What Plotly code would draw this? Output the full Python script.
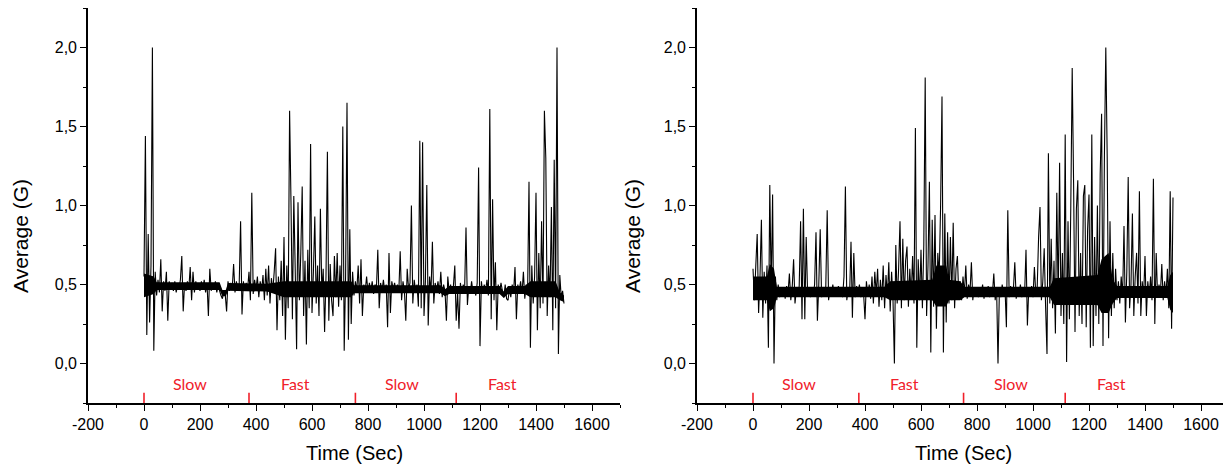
import plotly.graph_objects as go

# Sampling grid (seconds) shared by both recordings
t_start, t_step, n_samples = 0, 5, 301
time_s = [t_start + t_step * i for i in range(n_samples)]

# Left recording: average acceleration (G), one value per 5 s sample
left_avg = [
    0.55, 1.44, 0.18, 0.82, 0.26, 0.62, 2.00, 0.08, 0.58, 0.43, 0.53, 0.45, 0.66, 0.33, 0.52, 0.46, 0.58, 0.27, 0.52, 0.47,
    0.51, 0.46, 0.52, 0.45, 0.50, 0.47, 0.53, 0.68, 0.33, 0.51, 0.46, 0.52, 0.47, 0.61, 0.40, 0.58, 0.45, 0.52, 0.47, 0.50,
    0.46, 0.52, 0.47, 0.53, 0.45, 0.51, 0.30, 0.60, 0.46, 0.50, 0.47, 0.52, 0.45, 0.50, 0.46, 0.43, 0.41, 0.46, 0.44, 0.33,
    0.52, 0.46, 0.51, 0.47, 0.63, 0.45, 0.52, 0.47, 0.50, 0.90, 0.31, 0.52, 0.46, 0.51, 0.47, 0.58, 0.40, 1.08, 0.44, 0.53,
    0.47, 0.55, 0.42, 0.52, 0.46, 0.56, 0.40, 0.60, 0.43, 0.62, 0.38, 0.54, 0.46, 0.58, 0.73, 0.21, 0.55, 0.40, 0.65, 0.30,
    0.80, 0.15, 0.62, 0.35, 1.60, 1.02, 0.28, 1.06, 0.60, 0.09, 1.02, 0.40, 0.70, 1.12, 0.30, 0.65, 0.12, 0.72, 0.35, 1.39,
    0.32, 0.58, 0.93, 0.38, 0.62, 0.30, 0.98, 0.45, 0.60, 0.20, 0.55, 1.34, 0.27, 0.63, 0.40, 0.30, 0.68, 0.42, 0.70, 0.36,
    0.62, 0.40, 1.50, 0.08, 0.55, 1.65, 0.15, 0.85, 0.25, 0.58, 0.43, 0.52, 0.46, 0.62, 0.38, 0.66, 0.30, 0.50, 0.46, 0.55,
    0.45, 0.51, 0.46, 0.52, 0.44, 0.50, 0.47, 0.72, 0.35, 0.51, 0.46, 0.53, 0.45, 0.50, 0.23, 0.70, 0.32, 0.52, 0.47, 0.51,
    0.46, 0.50, 0.45, 0.71, 0.40, 0.52, 0.46, 0.27, 0.60, 0.47, 0.51, 1.00, 0.38, 0.53, 0.46, 0.50, 0.36, 1.41, 0.35, 1.40,
    0.30, 0.52, 1.13, 0.24, 0.55, 0.45, 0.77, 0.38, 0.51, 0.46, 0.52, 0.44, 0.58, 0.42, 0.50, 0.46, 0.27, 0.55, 0.45, 0.50,
    0.44, 0.49, 0.62, 0.27, 0.45, 0.22, 0.51, 0.44, 0.50, 0.46, 0.86, 0.37, 0.49, 0.44, 0.52, 0.45, 0.48, 0.43, 0.51, 1.24,
    0.11, 0.52, 0.44, 0.50, 0.46, 0.53, 0.43, 1.61, 0.28, 1.04, 0.40, 0.64, 0.21, 0.50, 0.45, 0.51, 0.46, 0.42, 0.50, 0.41,
    0.40, 0.47, 0.42, 0.50, 0.45, 0.61, 0.28, 0.50, 0.46, 0.52, 0.44, 0.58, 0.41, 0.50, 0.45, 1.15, 0.10, 0.62, 0.38, 0.55,
    1.08, 0.21, 0.70, 0.35, 0.90, 0.38, 1.60, 1.30, 0.30, 0.62, 0.42, 0.99, 0.21, 1.29, 0.35, 2.00, 0.06, 0.56, 0.42, 0.46,
    0.38,
]

# Right recording
right_avg = [
    0.60, 0.40, 0.62, 0.82, 0.32, 0.55, 0.91, 0.29, 0.58, 0.38, 0.62, 0.10, 1.13, 0.45, 1.07, 0.00, 0.55, 0.40, 0.50, 0.42,
    0.48, 0.43, 0.47, 0.41, 0.49, 0.44, 0.57, 0.40, 0.48, 0.66, 0.38, 0.47, 0.43, 0.49, 0.90, 0.28, 0.98, 0.28, 0.80, 0.44,
    0.47, 0.42, 0.48, 0.43, 0.50, 0.83, 0.27, 0.50, 0.85, 0.42, 0.48, 0.44, 0.49, 0.97, 0.40, 0.47, 0.43, 0.50, 0.44, 0.48,
    0.43, 0.49, 0.44, 0.48, 0.42, 0.55, 1.12, 0.40, 0.47, 0.43, 0.77, 0.29, 0.70, 0.42, 0.49, 0.44, 0.50, 0.42, 0.48, 0.44,
    0.28, 0.52, 0.43, 0.50, 0.41, 0.55, 0.38, 0.58, 0.44, 0.60, 0.36, 0.53, 0.40, 0.62, 0.35, 0.56, 0.42, 0.64, 0.33, 0.58,
    0.40, 0.00, 0.75, 0.38, 0.60, 0.90, 0.35, 0.79, 0.40, 0.65, 0.74, 0.36, 0.60, 0.42, 0.68, 0.38, 1.49, 0.10, 0.66, 0.40,
    0.72, 0.35, 0.75, 1.81, 0.30, 0.62, 1.15, 0.07, 0.91, 0.36, 0.94, 0.22, 0.70, 0.55, 1.00, 1.69, 0.07, 0.95, 0.26, 0.83,
    0.38, 0.80, 0.40, 0.89, 0.35, 0.60, 0.68, 0.42, 0.52, 0.40, 0.55, 0.44, 0.62, 0.41, 0.50, 0.45, 0.64, 0.40, 0.48, 0.43,
    0.47, 0.42, 0.48, 0.44, 0.50, 0.41, 0.47, 0.43, 0.49, 0.42, 0.46, 0.44, 0.57, 0.40, 0.48, 0.00, 0.47, 0.42, 0.50, 0.44,
    0.48, 0.23, 0.97, 0.42, 0.49, 0.43, 0.47, 0.64, 0.41, 0.48, 0.43, 0.50, 0.42, 0.47, 0.44, 0.72, 0.24, 0.48, 0.43, 0.49,
    0.42, 0.61, 0.44, 0.48, 0.80, 0.99, 0.40, 0.52, 0.73, 0.36, 0.06, 1.33, 0.38, 0.79, 0.35, 0.65, 0.19, 1.08, 0.38, 1.27,
    0.30, 0.70, 0.25, 1.45, 0.01, 0.90, 0.28, 1.00, 1.87, 1.14, 0.20, 0.98, 1.16, 0.30, 0.70, 0.25, 1.06, 1.13, 0.23, 0.85,
    1.07, 0.10, 1.45, 0.11, 0.80, 0.30, 1.00, 0.25, 1.20, 1.58, 0.11, 1.31, 2.00, 1.31, 0.16, 0.90, 0.30, 0.70, 0.35, 0.60,
    0.40, 0.52, 0.38, 0.55, 0.42, 0.87, 0.26, 0.58, 1.18, 0.35, 0.50, 0.95, 0.30, 0.55, 0.70, 0.38, 1.09, 0.30, 0.52, 0.42,
    0.68, 0.30, 0.52, 0.42, 0.55, 0.40, 1.17, 0.25, 0.70, 0.42, 0.50, 0.44, 0.63, 0.40, 0.52, 0.43, 0.60, 0.35, 1.09, 0.22,
    1.05,
]

# Dense noise core (solid black band): time, lower, upper edge
left_band_t = [0, 35, 45, 270, 280, 292, 300, 440, 500, 740, 750, 1060, 1075, 1090, 1270, 1285, 1300, 1360, 1380, 1470, 1485, 1500]
left_band_lo = [0.42, 0.44, 0.465, 0.465, 0.425, 0.425, 0.46, 0.455, 0.42, 0.42, 0.445, 0.445, 0.425, 0.44, 0.44, 0.415, 0.44, 0.44, 0.42, 0.42, 0.40, 0.39]
left_band_hi = [0.57, 0.55, 0.515, 0.515, 0.465, 0.465, 0.51, 0.505, 0.52, 0.52, 0.495, 0.495, 0.47, 0.49, 0.49, 0.455, 0.49, 0.49, 0.52, 0.52, 0.45, 0.43]

right_band_t = [0, 50, 60, 75, 85, 470, 490, 640, 655, 690, 700, 740, 755, 1060, 1075, 1230, 1245, 1270, 1285, 1300, 1480, 1490, 1500]
right_band_lo = [0.40, 0.40, 0.33, 0.35, 0.42, 0.42, 0.40, 0.40, 0.36, 0.36, 0.40, 0.40, 0.42, 0.42, 0.37, 0.37, 0.32, 0.32, 0.38, 0.415, 0.415, 0.34, 0.32]
right_band_hi = [0.55, 0.55, 0.63, 0.60, 0.485, 0.485, 0.52, 0.53, 0.62, 0.62, 0.53, 0.52, 0.485, 0.485, 0.54, 0.56, 0.66, 0.70, 0.53, 0.49, 0.49, 0.56, 0.58]

# Phase annotations (seconds)
phase_bounds_left = [0, 375, 755, 1115]
phase_bounds_right = [0, 378, 752, 1115]
phase_names = ["Slow", "Fast", "Slow", "Fast"]
phase_label_x = [165, 540, 922, 1280]

x_ticks = [-200, 0, 200, 400, 600, 800, 1000, 1200, 1400, 1600]
y_ticks = [0.0, 0.5, 1.0, 1.5, 2.0]
x_ticktext = [str(v) for v in x_ticks]
y_ticktext = [f"{v:.1f}".replace(".", ",") for v in y_ticks]

# The page body adds an 8 px margin at the top-left, so all page positions
# are shifted by 8 px.
OFF = 8
FW, FH = 1231 - OFF, 467 - OFF

def px_x(x):
    return (x - OFF) / FW

def px_y(y):
    return 1 - (y - OFF) / FH

dom_left = [px_x(88), px_x(620)]
dom_right = [px_x(697), px_x(1229)]
dom_y = [px_y(403), px_y(8)]

RED = "#f0202a"
TICKFONT = dict(family="Liberation Sans, Arial, sans-serif", size=16, color="black")
LINE = dict(color="black", width=1.1, simplify=False)

fig = go.Figure()
for xa, ya, bt, blo, bhi, vals in (("x", "y", left_band_t, left_band_lo, left_band_hi, left_avg),
                                   ("x2", "y2", right_band_t, right_band_lo, right_band_hi, right_avg)):
    fig.add_trace(go.Scatter(x=bt, y=blo, mode="lines", line=dict(width=0, color="black"),
                             xaxis=xa, yaxis=ya, hoverinfo="skip"))
    fig.add_trace(go.Scatter(x=bt, y=bhi, mode="lines", line=dict(width=0, color="black"),
                             fill="tonexty", fillcolor="black", xaxis=xa, yaxis=ya, hoverinfo="skip"))
    fig.add_trace(go.Scatter(x=time_s, y=vals, mode="lines", line=LINE, xaxis=xa, yaxis=ya))

def xaxis_cfg(domain, anchor):
    return dict(domain=domain, anchor=anchor, range=[-200, 1700], automargin=False,
                tickmode="array", tickvals=x_ticks, ticktext=x_ticktext,
                showline=True, linecolor="black", linewidth=1.6, mirror=False,
                ticks="outside", ticklen=6, tickwidth=1.4, tickcolor="black",
                minor=dict(dtick=100, tick0=0, ticks="outside", ticklen=3, tickwidth=1.2, tickcolor="black"),
                showgrid=False, zeroline=False, tickfont=TICKFONT)

def yaxis_cfg(anchor):
    return dict(domain=dom_y, anchor=anchor, range=[-0.25, 2.25], automargin=False,
                tickmode="array", tickvals=y_ticks, ticktext=y_ticktext,
                showline=True, linecolor="black", linewidth=1.6, mirror=False,
                ticks="outside", ticklen=6, tickwidth=1.4, tickcolor="black",
                minor=dict(dtick=0.25, tick0=0, ticks="outside", ticklen=3, tickwidth=1.2, tickcolor="black"),
                showgrid=False, zeroline=False, tickfont=TICKFONT)

shapes = []
annotations = []
for xr, yr, bounds in (("x", "y", phase_bounds_left), ("x2", "y2", phase_bounds_right)):
    for b in bounds:
        shapes.append(dict(type="line", xref=xr, yref=yr, x0=b, x1=b, y0=-0.25, y1=-0.185,
                           line=dict(color=RED, width=1.6)))
    for name, lx in zip(phase_names, phase_label_x):
        annotations.append(dict(xref=xr, yref=yr, x=lx, y=-0.125, text=name, showarrow=False,
                                font=dict(family="Lato, Open Sans, sans-serif", size=16, color=RED),
                                xanchor="center", yanchor="middle"))

XTITLEFONT = dict(family="Liberation Sans, Arial, sans-serif", size=20, color="black")
YTITLEFONT = dict(family="Liberation Sans, Arial, sans-serif", size=21, color="black")
for dom, ytx in ((dom_left, px_x(20)), (dom_right, px_x(632))):
    annotations.append(dict(xref="paper", yref="paper", x=(dom[0] + dom[1]) / 2, y=px_y(453),
                            text="Time (Sec)", showarrow=False, font=XTITLEFONT,
                            xanchor="center", yanchor="middle"))
    annotations.append(dict(xref="paper", yref="paper", x=ytx, y=px_y(236),
                            text="Average (G)", showarrow=False, font=YTITLEFONT, textangle=-90,
                            xanchor="center", yanchor="middle"))

fig.update_layout(
    width=FW, height=FH, margin=dict(l=0, r=0, t=0, b=0, autoexpand=False),
    paper_bgcolor="white", plot_bgcolor="white", showlegend=False,
    xaxis=xaxis_cfg(dom_left, "y"), yaxis=yaxis_cfg("x"),
    xaxis2=xaxis_cfg(dom_right, "y2"), yaxis2=yaxis_cfg("x2"),
    shapes=shapes, annotations=annotations,
)

fig.write_html("out.html")
